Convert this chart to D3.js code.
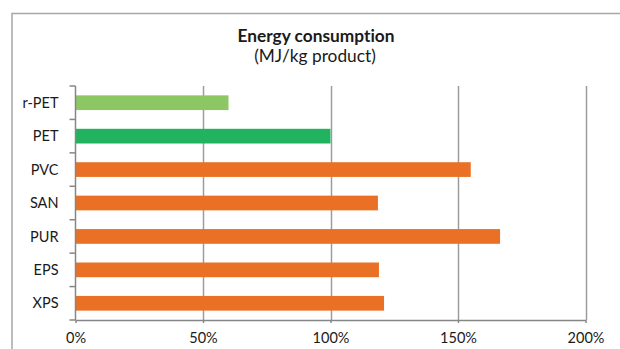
<!DOCTYPE html>
<html>
<head>
<meta charset="utf-8">
<script src="https://cdn.jsdelivr.net/npm/d3@7"></script>
<style>
  html, body { margin: 0; padding: 0; background: #fff; }
  svg { display: block; }
  text { font-family: Lato, "Open Sans", sans-serif; fill: #1a1a1a; font-variant-ligatures: none; }
</style>
</head>
<body>
<svg id="chart" width="620" height="349"></svg>
<script>
// Energy consumption relative to PET (=100%)
const materials = ["r-PET", "PET", "PVC", "SAN", "PUR", "EPS", "XPS"];
const energyPct = [60, 100, 155, 118.6, 166.5, 119, 121];
const barColors = ["#8cc763", "#21b35f", "#e97025", "#e97025", "#e97025", "#e97025", "#e97025"];
const xTicks = [0, 50, 100, 150, 200];
const titleLines = ["Energy consumption", "(MJ/kg product)"];

const svg = d3.select("#chart");
const margin = { left: 75.5, right: 34.5, top: 86, bottom: 29 };
const W = 620, H = 349;

// outer chart frame (runs off the right and bottom edges)
svg.append("rect")
  .attr("x", 12).attr("y", 13.5)
  .attr("width", 640).attr("height", 360)
  .attr("fill", "none").attr("stroke", "#a6a6a6").attr("stroke-width", 1.5);

const x = d3.scaleLinear().domain([0, 200]).range([margin.left, W - margin.right]);
const yBottom = 320;
const y = d3.scaleBand().domain(materials)
  .range([margin.top, yBottom])
  .paddingInner(0.56).paddingOuter(0.28);

// vertical gridlines
svg.append("g").selectAll("line")
  .data(xTicks.slice(1))
  .join("line")
  .attr("x1", d => Math.round(x(d)) + 0.5).attr("x2", d => Math.round(x(d)) + 0.5)
  .attr("y1", margin.top).attr("y2", yBottom)
  .attr("stroke", "#9c9c9c").attr("stroke-width", 1.5);

// bars
svg.append("g").selectAll("rect")
  .data(materials)
  .join("rect")
  .attr("x", x(0))
  .attr("y", d => y(d))
  .attr("width", (d, i) => x(energyPct[i]) - x(0))
  .attr("height", y.bandwidth())
  .attr("fill", (d, i) => barColors[i]);

// x axis
const xAxis = d3.axisBottom(x).tickValues(xTicks)
  .tickFormat(d => d + "%").tickSizeInner(3).tickSizeOuter(0).tickPadding(10);
const gx = svg.append("g").attr("transform", `translate(0,${yBottom})`).call(xAxis);
gx.select(".domain").attr("stroke", "#868686").attr("stroke-width", 1.5);
gx.selectAll(".tick line").attr("stroke", "#868686").attr("stroke-width", 1.5);
gx.selectAll("text").attr("font-size", 14.5).attr("fill", "#1a1a1a");

// y axis: category separators drawn as ticks at band edges
const step = y.step();
const yEdges = d3.range(materials.length + 1).map(i => margin.top + i * (yBottom - margin.top) / materials.length);
const gy = svg.append("g");
gy.append("line")
  .attr("x1", x(0)).attr("x2", x(0))
  .attr("y1", margin.top).attr("y2", yBottom)
  .attr("stroke", "#868686").attr("stroke-width", 1.5);
gy.selectAll("line.edge")
  .data(yEdges)
  .join("line").attr("class", "edge")
  .attr("x1", x(0) - 6).attr("x2", x(0))
  .attr("y1", d => d).attr("y2", d => d)
  .attr("stroke", "#868686").attr("stroke-width", 1.5);
gy.selectAll("text")
  .data(materials)
  .join("text")
  .attr("x", 58.5)
  .attr("y", d => y(d) + y.bandwidth() / 2)
  .attr("dy", "0.35em")
  .attr("text-anchor", "end")
  .attr("font-size", 14.5)
  .text(d => d);

// title
svg.append("text")
  .attr("x", 316).attr("y", 42)
  .attr("text-anchor", "middle")
  .attr("font-size", 17.3).attr("font-weight", "bold")
  .text(titleLines[0]);
svg.append("text")
  .attr("x", 315).attr("y", 62)
  .attr("text-anchor", "middle")
  .attr("font-size", 17.3)
  .text(titleLines[1]);
</script>
</body>
</html>
